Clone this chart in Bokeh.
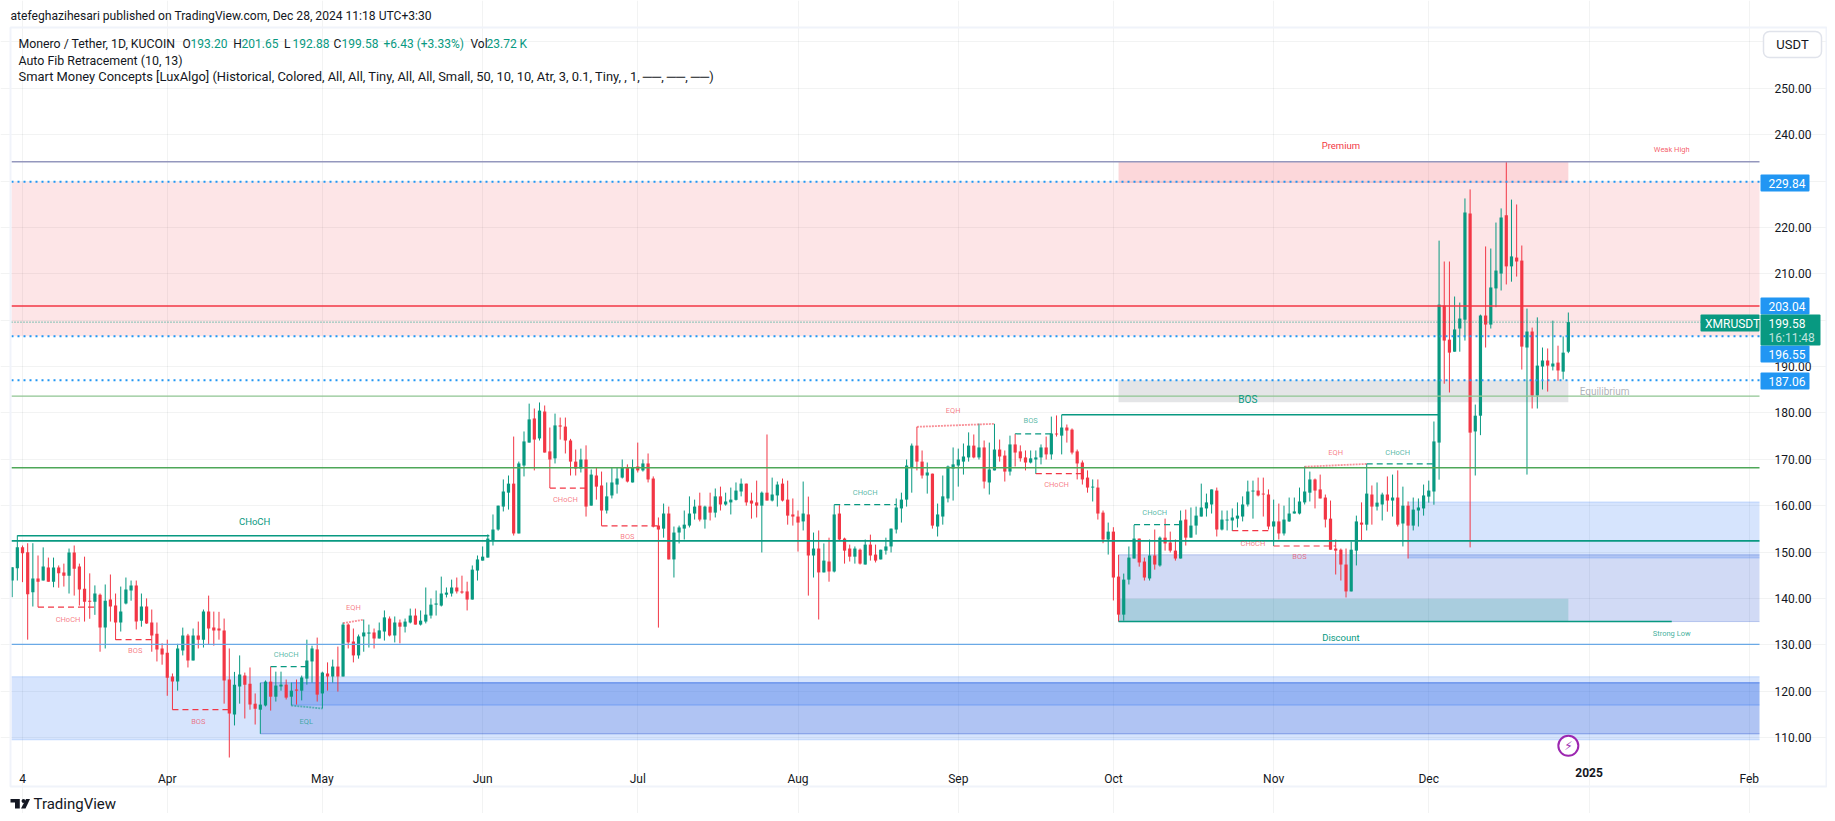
from bokeh.plotting import figure
from bokeh.embed import file_html
from bokeh.resources import INLINE
from bokeh.models import (ColumnDataSource, FixedTicker, Label, BoxAnnotation, PolyAnnotation, Range1d)
from bokeh.core.properties import value
import math

FONT = "Roboto"
GREEN, RED, BLUE, INK = "#089981", "#f23645", "#2196f3", "#131722"

# ---- daily candles, first bar is 2 Mar 2024 -------------------------------
direction = ("ggrrgrgrgr" "rgrrrrgrgr" "rgggrgrrrr" "rrggrgrgrr" "rrrggrrrgg" "rggrgrgggr"
             "grgrgrrggg" "rggrgrggrg" "ggggggrrrg" "gggggggrgg" "grgrrgrrrr" "grgrrggggr"
             "grgrrrgrgg" "gggrgrgrgg" "ggrrrgrggr" "rrrgrgrgrg" "rrrgrgrrgg" "gggggrrgrg"
             "ggggggrgrg" "grrgrrrggg" "rgrgrrrrrg" "rrgrrgggrr" "grgrrrgrgg" "gggrgggggg"
             "grrrgrgggg" "ggrrrrrrrg" "grgrggrgrg" "rggggggrrg" "ggrggrgggr" "grrgrggrgrgg")
highs = [
146.7,153.6,151.4,151.9,151.9,149.25,151.0,148.8,148.8,147.1,
147.5,150.75,151.4,147.5,149.0,145.4,142.8,141.05,143.0,145.15,
141.05,142.55,144.5,143.85,143.85,141.05,140.0,137.6,134.8,130.3,
131.1,123.8,130.2,133.7,132.35,133.5,135.0,137.6,140.6,137.15,
137.1,135.65,129.2,124.15,127.7,124.0,125.1,119.5,121.8,122.3,
125.3,124.2,124.2,122.5,121.85,122.5,123.35,131.1,129.8,131.55,
124.2,126.2,126.8,129.6,134.8,134.6,133.5,132.2,135.45,134.35,
133.5,134.8,137.4,136.1,136.1,135.45,135.65,137.8,137.8,137.4,
142.35,140.0,141.7,144.7,142.35,144.05,144.5,144.9,143.6,147.1,
149.25,151.2,153.8,158.1,160.0,165.65,166.5,174.9,169.5,176.0,
182.0,180.95,182.25,181.6,176.85,179.85,179.0,179.0,174.4,172.1,
172.3,173.0,167.8,168.15,167.35,165.0,168.15,168.15,169.95,168.9,
169.95,173.6,169.95,171.25,166.3,157.45,160.45,159.8,155.5,155.7,
158.95,162.0,161.3,162.8,160.0,162.8,163.7,164.1,162.8,163.9,
165.0,165.85,164.75,162.8,165.4,163.05,175.35,166.05,165.2,165.85,
165.4,161.55,158.95,165.2,161.95,154.2,154.65,151.85,153.1,160.2,
160.2,153.1,151.6,151.2,150.75,152.7,153.75,151.6,150.5,153.1,
155.05,161.55,162.8,169.95,173.4,177.0,171.9,169.3,166.9,160.45,
166.5,168.65,172.55,172.3,173.4,175.8,175.35,177.7,174.05,173.6,
177.65,174.25,171.9,175.1,175.5,173.0,171.9,171.9,171.9,173.2,
174.9,179.2,179.45,179.6,177.5,176.65,172.1,169.75,167.6,165.65,
165.65,158.95,156.35,155.35,149.4,145.35,151.2,155.85,152.9,148.8,
152.7,154.85,153.35,157.2,154.4,152.7,158.95,159.15,159.6,159.8,
164.75,162.6,163.5,163.9,158.95,158.95,159.4,160.7,162.0,165.4,
165.4,166.05,166.05,163.5,161.3,160.45,160.0,161.75,161.75,163.9,
168.45,167.35,165.85,166.7,162.4,161.1,152.7,150.75,150.75,152.25,
157.85,160.7,169.0,164.35,165.0,162.8,166.3,166.7,167.6,164.1,
160.9,161.75,161.55,164.55,165.4,178.15,217.15,212.65,212.65,205.1,
203.8,226.25,228.2,181.8,201.2,215.9,215.45,221.05,224.1,234.2,
226.0,224.95,216.1,202.5,198.4,200.6,194.1,193.9,199.9,194.5,196.5,201.65]
body_tops = [
146.7,151.04,151.04,149.97,144.3,144.3,146.87,146.65,146.65,146.65,
145.6,149.9,149.9,146.9,142.1,139.5,141.05,140.8,139.5,139.75,
138.45,137.15,141.9,142.8,142.8,138.25,138.25,134.8,132.4,129.2,
128.3,123.15,129.2,132.0,132.0,132.0,132.0,137.15,137.15,133.7,
133.5,133.1,122.5,121.4,123.6,123.35,121.6,117.3,117.1,122.05,
122.05,121.2,121.4,121.4,120.1,120.35,122.95,126.6,129.2,129.0,
124.0,123.8,125.3,125.3,134.35,134.35,130.7,131.8,132.65,132.65,
132.65,133.1,135.9,135.65,134.8,134.8,135.0,136.3,136.3,135.2,
136.5,138.65,138.9,141.05,141.25,142.35,142.35,141.5,141.5,146.2,
148.4,149.0,152.9,154.85,160.0,163.05,164.75,164.75,169.1,173.85,
178.6,178.8,180.5,180.3,171.7,177.3,177.3,177.05,174.05,169.5,
169.95,169.95,166.7,166.5,164.35,162.0,165.0,165.85,168.15,168.15,
168.15,168.45,169.1,169.1,165.85,155.7,158.3,158.3,154.2,155.3,
155.9,158.3,159.8,160.0,159.8,159.8,162.0,162.0,160.9,161.3,
163.25,164.75,164.75,161.1,160.7,162.8,162.8,162.4,164.55,164.75,
161.3,158.1,157.65,158.3,158.1,150.75,150.75,148.15,147.95,158.1,
158.3,152.9,150.75,150.75,150.5,151.6,151.6,149.45,150.5,151.2,
155.05,159.6,161.3,168.65,172.95,172.95,169.5,167.15,166.9,158.1,
162.0,168.45,168.9,169.95,170.6,172.95,172.95,172.55,172.55,167.8,
172.1,172.1,170.8,173.2,173.2,171.7,170.4,170.2,170.4,172.55,
172.55,175.55,175.55,176.85,176.85,176.4,171.7,169.3,166.05,164.1,
163.9,158.5,154.4,154.4,144.7,144.05,148.8,152.9,152.9,147.95,
149.25,149.25,153.1,153.1,152.05,150.3,156.8,157.0,155.7,157.85,
159.6,160.7,163.5,163.25,157.0,157.0,157.45,157.85,160.25,163.05,
163.25,163.25,162.6,162.4,156.6,156.6,157.0,158.3,158.75,160.9,
163.05,165.65,165.65,163.5,161.75,157.2,150.75,150.5,147.3,150.5,
156.6,156.35,162.6,162.4,160.65,162.4,162.4,161.75,161.75,160.0,
160.0,159.15,159.6,162.2,163.25,173.85,203.35,203.15,195.8,198.0,
200.35,223.2,223.0,179.4,201.0,201.0,207.05,210.7,222.15,222.6,
213.75,213.5,212.85,197.55,197.55,190.2,191.3,191.3,190.65,190.85,193.0,199.58]
body_bottoms = [
143.85,146.51,149.75,140.9,141.3,143.6,143.85,143.6,143.6,145.4,
144.9,144.9,146.4,141.9,139.3,139.3,139.3,133.7,133.7,138.25,
134.8,134.8,138.9,141.7,135.0,135.2,134.6,132.0,129.0,127.9,
122.9,122.05,122.05,128.75,126.6,126.6,131.1,131.1,133.5,133.1,
133.1,122.3,115.2,114.95,121.0,121.4,117.1,116.2,116.0,116.9,
118.8,118.8,121.0,118.6,118.8,120.1,120.1,122.7,126.4,119.25,
119.5,123.15,123.15,123.15,123.15,130.5,127.7,127.7,131.8,132.4,
131.35,131.35,132.85,132.0,132.0,133.9,133.9,134.8,134.35,134.35,
135.0,136.3,138.65,138.45,140.8,141.05,141.5,141.25,139.75,139.75,
146.0,148.15,148.8,152.5,154.85,159.8,162.8,154.0,154.0,168.65,
173.6,174.25,174.5,171.45,169.95,170.2,177.05,174.05,169.5,168.0,
168.0,159.8,160.0,164.1,158.95,158.95,162.2,164.55,166.05,165.2,
165.0,167.6,167.6,165.65,155.5,154.85,155.05,148.4,148.4,154.2,
155.05,155.7,158.3,157.0,157.0,158.5,158.5,160.25,160.25,160.7,
161.25,163.05,160.7,160.45,160.0,160.0,161.1,161.1,162.2,161.1,
157.85,157.65,156.35,156.6,149.25,149.25,145.6,145.6,145.8,145.8,
152.7,150.3,149.0,149.0,147.5,147.3,149.25,148.15,148.4,150.3,
151.2,154.85,159.4,161.3,168.2,169.5,166.5,166.5,155.7,155.5,
157.65,161.55,168.0,168.65,169.5,170.4,170.4,170.4,165.2,165.0,
167.6,170.6,167.35,167.35,171.45,170.2,169.3,169.3,169.95,170.4,
171.05,171.05,175.35,175.1,176.2,171.45,169.1,165.65,163.9,163.9,
158.3,152.7,152.7,144.5,136.5,136.5,144.05,148.6,147.75,144.5,
144.3,147.3,147.1,151.85,150.3,148.6,148.6,153.1,153.1,155.7,
157.65,159.4,160.25,154.85,154.85,156.8,156.8,157.2,157.65,160.25,
163.05,162.2,162.4,155.5,155.5,154.0,154.0,156.6,158.3,158.3,
160.7,162.8,163.25,161.55,157.0,150.5,150.3,147.3,141.5,141.5,
150.3,155.9,155.9,159.8,159.8,160.25,161.1,161.1,155.9,156.15,
155.7,155.7,158.95,159.4,161.95,163.05,173.6,195.6,193.0,193.2,
198.2,200.1,175.75,176.0,179.4,199.05,199.05,206.85,210.05,211.6,
211.6,212.65,194.3,194.1,183.75,183.75,190.0,190.2,190.0,189.15,188.9,193.2]
lows = [
140.26,143.85,143.5,131.1,138.25,138.1,143.85,143.6,142.4,142.3,
142.55,141.05,140.6,138.45,135.0,135.6,136.45,128.5,129.2,135.0,
131.05,132.85,138.7,139.5,133.3,133.9,134.5,128.5,126.4,125.7,
119.0,116.0,120.1,127.7,125.1,126.6,129.2,129.4,130.05,129.8,
131.1,117.3,105.4,112.6,117.3,114.1,116.0,112.8,110.8,116.7,
115.8,117.75,120.1,118.2,116.9,117.1,118.0,121.4,121.85,117.75,
116.25,120.1,121.85,119.9,123.15,129.2,126.2,127.0,128.5,129.4,
129.2,131.35,130.9,131.8,130.5,130.3,132.65,134.6,134.35,134.15,
134.6,135.65,136.3,138.25,140.2,140.4,141.05,141.0,137.4,139.75,
143.85,148.15,148.8,151.4,154.6,158.75,159.15,153.55,154.0,166.3,
173.6,167.6,174.05,171.45,163.8,169.1,174.25,171.25,166.5,166.5,
167.15,157.65,160.0,161.3,155.65,158.3,161.55,162.6,165.85,165.0,
165.0,167.15,167.35,165.0,155.3,133.7,153.1,148.4,144.5,151.85,
152.7,155.3,157.0,156.6,155.05,156.8,157.45,158.95,160.0,158.1,
161.1,162.0,160.0,157.2,157.45,149.9,161.1,160.9,159.8,160.9,
155.9,155.7,150.1,154.65,140.6,144.5,135.45,145.6,143.6,145.6,
152.5,147.5,147.95,147.5,147.3,147.3,148.15,147.75,148.4,149.45,
149.9,154.0,156.35,159.8,162.8,167.6,165.85,162.6,155.05,153.35,
155.9,160.7,161.1,164.1,166.7,169.5,170.2,169.95,163.7,162.4,
167.6,169.5,165.2,166.5,168.45,169.5,167.6,169.1,166.85,168.9,
169.95,169.95,174.9,171.05,173.6,171.05,165.65,164.55,162.8,160.9,
157.0,151.9,149.45,139.55,135.0,135.2,143.0,148.6,146.85,143.85,
143.85,146.2,146.85,150.3,149.9,148.15,148.6,151.4,153.1,153.75,
157.65,157.65,158.3,153.35,154.65,154.65,154.55,155.3,156.6,159.8,
157.2,162.0,157.65,154.85,151.3,152.7,153.55,156.5,158.3,158.1,
160.25,160.9,159.4,161.55,155.3,150.5,145.15,143.85,140.2,141.5,
147.1,152.5,154.65,155.9,158.95,156.8,158.7,157.65,155.5,151.2,
148.6,154.65,155.5,157.85,160.65,160.2,165.6,186.3,184.4,193.2,
193.2,195.6,151.0,166.5,175.2,194.1,198.2,202.8,206.4,207.7,
208.3,209.4,189.35,166.7,180.95,180.95,185.05,184.6,189.15,186.95,187.2,192.88]
assert len(direction) == len(highs) == len(lows) == len(body_tops) == len(body_bottoms) == 302

opens = [b if d == "g" else t for d, t, b in zip(direction, body_tops, body_bottoms)]
closes = [t if d == "g" else b for d, t, b in zip(direction, body_tops, body_bottoms)]

# ---- axes ------------------------------------------------------------------
price_ticks = list(range(110, 270, 10))
hidden_price_ticks = [260, 230, 200]
date_ticks = [2, 30, 60, 91, 121, 152, 183, 213, 244, 274, 336]
date_labels = ["4", "Apr", "May", "Jun", "Jul", "Aug", "Sep", "Oct", "Nov", "Dec", "Feb"]
year_tick, year_label = 305, "2025"

# ---- pixel layout: the figure's frame fills the canvas so that the outer TradingView
# chrome can be drawn; the visible pane is bounded by these limits
W, H = 1827, 813
BAR0, BAR_W = 11.67, 5.17           # pixel of first bar, pixels per bar
Y110, PX_PER_UNIT = 737.0, 4.637    # pixel of 110.00, pixels per price unit
PANE_X0 = (11 - BAR0) / BAR_W
PANE_X1 = (1759 - BAR0) / BAR_W
PANE_Y0 = 110 + (Y110 - 757) / PX_PER_UNIT
PANE_Y1 = 110 + (Y110 - 28) / PX_PER_UNIT

# ---- horizontal levels -----------------------------------------------------
fib_top, fib_mid, fib_low, fib_base = 229.84, 203.04, 196.55, 187.06
last_close = 199.58
swing_high = 234.15
level_values = [183.6, 168.2, 152.4, 130.1, swing_high, fib_mid]
level_colors = ["#8fc592", "#4ea758", GREEN, "#6aa9e6", "#9497bd", RED]
level_widths = [1.2, 1.5, 1.6, 1.3, 1.5, 1.5]

# ---- zones: start bar, end bar, top price, bottom price ---------------------
zone_x0 = [PANE_X0, 214, 214, PANE_X0, 48, 54, 270, 214, 214]
zone_x1 = [PANE_X1, 301, 301, PANE_X1, PANE_X1, PANE_X1, PANE_X1, PANE_X1, 301]
zone_top = [fib_top, swing_high, 187.06, 123.1, 121.8, 121.8, 160.8, 149.4, 139.9]
zone_bottom = [fib_low, 229.6, 182.3, 109.5, 110.8, 117.0, 148.7, 135.0, 135.0]
zone_colors = [RED, RED, "#787b86", "#3179f5", "#1848cc", "#3179f5", "#3179f5", "#1848cc", GREEN]
zone_alpha = [0.13, 0.2, 0.2, 0.2, 0.2, 0.2, 0.2, 0.2, 0.2]
zone_line_alpha = [0, 0, 0, 0.22, 0.4, 0.4, 0.22, 0.25, 0]

# ---- structure lines ---------------------------------------------------------
dash_x0 = [5, 20, 31, 104, 114, 198, 236, 244]
dash_x1 = [16.5, 27, 42, 111, 125, 207, 243, 256]
dash_price = [138.1, 131.1, 116.0, 163.8, 155.65, 166.9, 154.6, 151.3]
up_dash_x0 = [50, 159, 194, 217, 262]
up_dash_x1 = [57, 171, 201, 226, 275]
up_dash_price = [125.3, 160.2, 175.5, 155.9, 169.0]
solid_x0 = [1, 203, 214]
solid_x1 = [92.3, 276, 321]
solid_price = [153.5, 179.6, 135.0]
eq_x0 = [64, 175, 250, 54]
eq_x1 = [68, 190, 262, 60]
eq_y0 = [134.65, 177.0, 168.4, 116.9]
eq_y1 = [135.4, 177.65, 169.0, 116.25]
eq_colors = [RED, RED, RED, GREEN]

# ---- small labels -----------------------------------------------------------
red_text = ["CHoCH", "BOS", "BOS", "EQH", "CHoCH", "BOS", "EQH", "CHoCH", "CHoCH", "BOS", "EQH"]
red_x = [10.8, 23.8, 36, 66, 107, 119, 182, 202, 240, 249, 256]
red_y = [135.5, 128.7, 113.4, 138.1, 161.4, 153.3, 180.45, 164.5, 151.9, 149.0, 171.5]
green_text = ["CHoCH", "EQL", "CHoCH", "BOS", "CHoCH", "CHoCH"]
green_x = [53, 56.9, 165, 197, 221, 268]
green_y = [127.8, 113.5, 162.9, 178.3, 158.45, 171.5]

p = figure(width=W, height=H, output_backend="svg", toolbar_location=None,
           x_range=Range1d(-BAR0 / BAR_W, (W - BAR0) / BAR_W),
           y_range=Range1d(110 + (Y110 - H) / PX_PER_UNIT, 110 + Y110 / PX_PER_UNIT),
           y_axis_location="right",
           min_border_left=0, min_border_right=0, min_border_top=0, min_border_bottom=0)
p.outline_line_color = None
p.background_fill_color = "white"
p.border_fill_color = "white"

for ax in (p.xaxis[0], p.yaxis[0]):
    ax.axis_line_color = None
    ax.major_tick_line_color = None
    ax.minor_tick_line_color = None
    ax.major_label_text_font = FONT
    ax.major_label_text_font_size = "12px"
    ax.major_label_text_color = INK
p.yaxis[0].fixed_location = PANE_X1
p.xaxis[0].fixed_location = PANE_Y0
p.yaxis[0].ticker = FixedTicker(ticks=price_ticks)
p.yaxis[0].major_label_overrides = {t: ("" if t in hidden_price_ticks else f"{t:.2f}") for t in price_ticks}
p.yaxis[0].major_label_standoff = 9
p.xaxis[0].ticker = FixedTicker(ticks=date_ticks + [year_tick])
p.xaxis[0].major_label_overrides = {**dict(zip(date_ticks, date_labels)), year_tick: ""}
p.xaxis[0].major_label_standoff = 8

p.xgrid[0].ticker = FixedTicker(ticks=date_ticks + [year_tick])
p.ygrid[0].ticker = FixedTicker(ticks=price_ticks)
p.xgrid[0].bounds = (PANE_Y0, PANE_Y1)
p.ygrid[0].bounds = (PANE_X0, PANE_X1)
for g in (p.xgrid[0], p.ygrid[0]):
    g.grid_line_color = "#2a2e39"
    g.grid_line_alpha = 0.06
    g.grid_line_width = 1

# zones: fill without outline, then only their top and bottom edges
p.quad(left=zone_x0, right=zone_x1, top=zone_top, bottom=zone_bottom,
       fill_color=zone_colors, fill_alpha=zone_alpha, line_alpha=0)
for edge in (zone_top, zone_bottom):
    p.segment(zone_x0, edge, zone_x1, edge, line_color=zone_colors, line_alpha=zone_line_alpha, line_width=1)

# candles
idx = list(range(len(opens)))
cols = [GREEN if d == "g" else RED for d in direction]
src = ColumnDataSource(dict(x=idx, o=opens, c=closes, h=highs, l=[max(v, PANE_Y0) for v in lows],
                            top=body_tops, bot=body_bottoms, col=cols))
p.segment("x", "h", "x", "l", source=src, line_color="col", line_width=1)
p.vbar(x="x", top="top", bottom="bot", width=0.62, source=src, fill_color="col", line_color="col", line_width=0)

# levels
n = len(level_values)
p.segment([PANE_X0] * n, level_values, [PANE_X1] * n, level_values, line_color=level_colors, line_width=level_widths)
for v in (fib_top, fib_low, fib_base):
    p.segment([PANE_X0], [v], [PANE_X1], [v], line_color=BLUE, line_width=2, line_dash="2 4")
p.segment([PANE_X0], [last_close], [PANE_X1], [last_close], line_color=GREEN, line_width=1, line_dash="1 2")

# structure
p.segment(dash_x0, dash_price, dash_x1, dash_price, line_color=RED, line_width=1.2, line_dash="6 4")
p.segment(up_dash_x0, up_dash_price, up_dash_x1, up_dash_price, line_color=GREEN, line_width=1.2, line_dash="6 4")
p.segment(solid_x0, solid_price, solid_x1, solid_price, line_color=GREEN, line_width=1.5)
p.segment(eq_x0, eq_y0, eq_x1, eq_y1, line_color=eq_colors, line_alpha=0.55, line_width=1.8, line_dash="2 1")

txt = dict(text_font=value(FONT), text_align="center", text_baseline="middle")
p.text(red_x, red_y, text=red_text, text_color=RED, text_alpha=0.65, text_font_size="7.5px", **txt)
p.text(green_x, green_y, text=green_text, text_color=GREEN, text_alpha=0.7, text_font_size="7.5px", **txt)
p.text([46.9], [156.65], text=["CHoCH"], text_color=GREEN, text_font_size="9.5px", **txt)
p.text([239], [182.9], text=["BOS"], text_color=GREEN, text_font_size="10px", **txt)
p.text([257], [237.7], text=["Premium"], text_color=RED, text_font_size="9.5px", **txt)
p.text([257], [131.6], text=["Discount"], text_color=GREEN, text_font_size="9.5px", **txt)
p.text([308], [184.7], text=["Equilibrium"], text_color="#787b86", text_alpha=0.6, text_font_size="10px", **txt)
p.text([321], [236.8], text=["Weak High"], text_color=RED, text_alpha=0.8, text_font_size="7.5px", **txt)
p.text([321], [132.5], text=["Strong Low"], text_color=GREEN, text_alpha=0.8, text_font_size="7.5px", **txt)

# event marker
p.scatter([301], [108.2], size=20, marker="circle", fill_color="white", line_color="#9c27b0", line_width=2)
p.text([301], [108.2], text=["\u26a1"], text_color="#9c27b0", text_font_size="12px",
       text_align="center", text_baseline="middle", text_font=value("DejaVu Sans"))


def box(l, t, r, b, fill=None, line=None, lw=1, radius=0):
    p.add_layout(BoxAnnotation(left=l, right=r, top=t, bottom=b,
                               left_units="canvas", right_units="canvas", top_units="canvas", bottom_units="canvas",
                               fill_color=fill, fill_alpha=1 if fill else 0,
                               line_color=line, line_alpha=1 if line else 0, line_width=lw,
                               border_radius=radius))


def label(text, x, y, size=13, color=INK, align="left", style="normal", alpha=1.0, font=FONT):
    p.add_layout(Label(x=x, y=y, x_units="canvas", y_units="canvas", text=text,
                       text_font=font, text_font_size=f"{size}px", text_color=color,
                       text_align=align, text_baseline="middle", text_font_style=style, text_alpha=alpha))


# outer frame
box(10, 27, 1826, 786, line="#f0f3fa", lw=2)

# price tags
box(1763, 31, 1821, 57, fill="white", line="#e0e3eb", lw=1.5, radius=6)
label("USDT", 1792, 44, 13, INK, "center")
for v, t, b in ((fib_top, 174, 191), (fib_mid, 297, 314), (fib_low, 345, 362), (fib_base, 372, 389)):
    box(1760, t, 1809, b, fill=BLUE, radius=1)
    label(f"{v:.2f}", 1768, (t + b) / 2 + 0.5, 12, "white")
box(1700, 314, 1759, 331, fill=GREEN, radius=1)
label("XMRUSDT", 1704.5, 323, 12, "white")
box(1760, 314, 1820, 345, fill=GREEN, radius=1)
label(f"{last_close:.2f}", 1768, 323, 12, "white")
label("16:11:48", 1768, 337, 12, "white", alpha=0.75)

# year label on the time axis
p.add_layout(Label(x=year_tick, y=772, y_units="canvas", text=year_label, text_font=FONT, text_font_size="12px",
                   text_font_style="bold", text_color=INK, text_align="center", text_baseline="middle"))

# header + legend
label("atefeghazihesari published on TradingView.com, Dec 28, 2024 11:18 UTC+3:30", 10, 15, 12.1)
label("Monero / Tether, 1D, KUCOIN", 18, 43, 12.3)
for t, x, c in (("O", 182, INK), ("193.20", 190, GREEN), ("H", 232.7, INK), ("201.65", 241, GREEN),
                ("L", 283.6, INK), ("192.88", 292, GREEN), ("C", 333, INK), ("199.58", 341, GREEN),
                ("+6.43 (+3.33%)", 383, GREEN), ("Vol", 470, INK), ("23.72 K", 486, GREEN)):
    label(t, x, 43, 12, c)
label("Auto Fib Retracement (10, 13)", 18, 59.5, 12.4)
label("Smart Money Concepts [LuxAlgo] (Historical, Colored, All, All, Tiny, All, All, Small, 50, 10, 10, Atr, 3, 0.1, Tiny, , 1, \u2500\u2500, \u2500\u2500, \u2500\u2500)", 18, 76, 12.9)

# logo
for xs, ys in (([10, 19.3, 19.3, 14.5, 14.5, 10], [798.5, 798.5, 808, 808, 802, 802]),
               ([25.5, 29.5, 25, 20.5], [798.5, 798.5, 808, 808]),
               ([23 + 2 * math.cos(a / 8 * 6.283) for a in range(8)], [800.5 + 2 * math.sin(a / 8 * 6.283) for a in range(8)])):
    p.add_layout(PolyAnnotation(xs=xs, ys=ys, xs_units="canvas", ys_units="canvas",
                                fill_color=INK, fill_alpha=1, line_color=INK, line_alpha=0))
label("TradingView", 33, 803.5, 15)

open("out.html", "w").write(file_html(p, INLINE))
